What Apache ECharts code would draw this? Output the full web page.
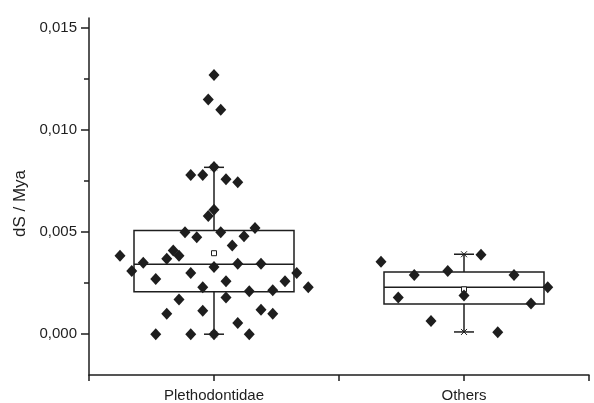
<!DOCTYPE html>
<html>
<head>
<meta charset="utf-8" />
<title>dS / Mya</title>
<style>
  html, body { margin: 0; padding: 0; background: #fff; }
  #chart { width: 594px; height: 403px; }
</style>
</head>
<body>
<div id="chart"></div>
<script src="https://cdn.jsdelivr.net/npm/echarts@6/dist/echarts.min.js"></script>
<script>
// groups and their x position on the value axis (0..4)
const groups = ['Plethodontidae', 'Others'];
const groupPos = [1, 3];

// box stats per group: min, Q1, median, Q3, max, mean
const boxMin = [0.0, 0.00011];
const boxQ1 = [0.00208, 0.00148];
const boxMedian = [0.00343, 0.0023];
const boxQ3 = [0.00508, 0.00305];
const boxMax = [0.00818, 0.00392];
const boxMean = [0.00397, 0.0022];

// raw points (jittered x, value)
const plethoX = [1.00, 0.954, 1.054, 1.00, 0.814, 0.910, 1.096, 1.19, 1.00, 0.954,
  0.768, 0.862, 1.054, 1.24, 1.328, 1.146, 0.248, 0.674, 0.622, 0.72,
  0.434, 0.342, 1.00, 1.19, 1.376, 0.814, 1.662, 0.534, 1.096, 1.568,
  0.910, 1.754, 1.282, 1.47, 0.72, 1.096, 0.622, 0.910, 1.376, 1.47,
  1.19, 0.534, 0.814, 1.00, 1.282];
const plethoY = [0.0127, 0.0115, 0.0110, 0.0082, 0.0078, 0.0078, 0.0076, 0.00745, 0.0061, 0.0058,
  0.0050, 0.00475, 0.0050, 0.0048, 0.0052, 0.00435, 0.00385, 0.0041, 0.0037, 0.00385,
  0.0035, 0.0031, 0.0033, 0.00345, 0.00345, 0.0030, 0.0030, 0.0027, 0.0026, 0.0026,
  0.0023, 0.0023, 0.0021, 0.00215, 0.0017, 0.0018, 0.0010, 0.00115, 0.0012, 0.0010,
  0.00055, 0.0, 0.0, 0.0, 0.0];
const othersX = [2.336, 2.602, 2.87, 3.136, 3.40, 3.67, 2.474, 3.00, 3.536, 2.736, 3.27];
const othersY = [0.00355, 0.0029, 0.0031, 0.0039, 0.0029, 0.0023, 0.0018, 0.0019, 0.0015, 0.00065, 0.0001];

const yTicks = [0, 0.005, 0.010, 0.015];
const yMinorTicks = [0.0025, 0.0075, 0.0125];

const ink = '#1e1e1e';
const chart = echarts.init(document.getElementById('chart'));

const boxData = groups.map(function (g, i) {
  return [groupPos[i], boxMin[i], boxQ1[i], boxMedian[i], boxQ3[i], boxMax[i], boxMean[i]];
});
const points = plethoX.map(function (x, i) { return [x, plethoY[i]]; })
  .concat(othersX.map(function (x, i) { return [x, othersY[i]]; }));

function renderBox(params, api) {
  const x = api.value(0);
  const halfBox = 0.64;
  const halfCap = 0.08;
  const lt = api.coord([x - halfBox, api.value(4)]);
  const rb = api.coord([x + halfBox, api.value(2)]);
  const medY = api.coord([x, api.value(3)])[1];
  const top = api.coord([x, api.value(5)]);
  const bot = api.coord([x, api.value(1)]);
  const capL = api.coord([x - halfCap, 0])[0];
  const capR = api.coord([x + halfCap, 0])[0];
  const mean = api.coord([x, api.value(6)]);
  const st = { stroke: ink, lineWidth: 1.5, fill: null };
  const cross = function (p) {
    const s = 3;
    return [
      { type: 'line', shape: { x1: p[0] - s, y1: p[1] - s, x2: p[0] + s, y2: p[1] + s }, style: { stroke: ink, lineWidth: 1 } },
      { type: 'line', shape: { x1: p[0] - s, y1: p[1] + s, x2: p[0] + s, y2: p[1] - s }, style: { stroke: ink, lineWidth: 1 } }
    ];
  };
  const children = [
    { type: 'rect', shape: { x: lt[0], y: lt[1], width: rb[0] - lt[0], height: rb[1] - lt[1] }, style: st },
    { type: 'line', shape: { x1: lt[0], y1: medY, x2: rb[0], y2: medY }, style: st },
    { type: 'line', shape: { x1: top[0], y1: top[1], x2: top[0], y2: lt[1] }, style: st },
    { type: 'line', shape: { x1: bot[0], y1: rb[1], x2: bot[0], y2: bot[1] }, style: st },
    { type: 'line', shape: { x1: capL, y1: top[1], x2: capR, y2: top[1] }, style: st },
    { type: 'line', shape: { x1: capL, y1: bot[1], x2: capR, y2: bot[1] }, style: st },
    { type: 'rect', shape: { x: mean[0] - 2.5, y: mean[1] - 2.5, width: 5, height: 5 }, style: { stroke: ink, lineWidth: 1, fill: '#fff' } }
  ].concat(cross(top), cross(bot));
  return { type: 'group', children: children };
}

const option = {
  backgroundColor: '#fff',
  animation: false,
  textStyle: { fontFamily: 'Liberation Sans, Arial, sans-serif' },
  grid: { left: 89, right: 5, top: 18, bottom: 28, outerBoundsMode: 'none' },
  xAxis: {
    type: 'value',
    min: 0,
    max: 4,
    interval: 1,
    splitLine: { show: false },
    axisLine: { onZero: false, lineStyle: { color: ink, width: 1.5 } },
    axisTick: { length: 6, lineStyle: { color: ink, width: 1.5 } },
    axisLabel: {
      color: ink,
      fontSize: 15,
      margin: 13,
      formatter: function (v) {
        const i = groupPos.indexOf(v);
        return i >= 0 ? groups[i] : '';
      }
    }
  },
  yAxis: [{
    type: 'value',
    min: -0.002,
    max: 0.0155,
    position: 'left',
    splitLine: { show: false },
    name: 'dS / Mya',
    nameLocation: 'middle',
    nameGap: 58,
    nameTextStyle: { color: ink, fontSize: 17, padding: [0, 14, 0, 0] },
    axisLine: { show: true, onZero: false, lineStyle: { color: ink, width: 1.5 } },
    axisTick: { show: true, length: 8, customValues: yTicks, lineStyle: { color: ink, width: 1.5 } },
    axisLabel: {
      color: ink,
      fontSize: 15,
      margin: 12,
      customValues: yTicks,
      formatter: function (v) { return v.toFixed(3).replace('.', ','); }
    }
  }, {
    type: 'value',
    min: -0.002,
    max: 0.0155,
    position: 'left',
    splitLine: { show: false },
    axisLine: { show: false, onZero: false },
    axisLabel: { show: false },
    axisTick: { show: true, length: 5, customValues: yMinorTicks, lineStyle: { color: ink, width: 1.5 } }
  }],
  series: [{
    type: 'custom',
    renderItem: renderBox,
    data: boxData,
    encode: { x: 0, y: [1, 2, 3, 4, 5] },
    z: 2,
    silent: true
  }, {
    type: 'scatter',
    data: points,
    symbol: 'diamond',
    symbolSize: [11, 12],
    itemStyle: { color: ink, opacity: 1 },
    z: 3,
    silent: true
  }]
};

chart.setOption(option);
window.onresize = function () { chart.resize(); };
</script>
</body>
</html>
